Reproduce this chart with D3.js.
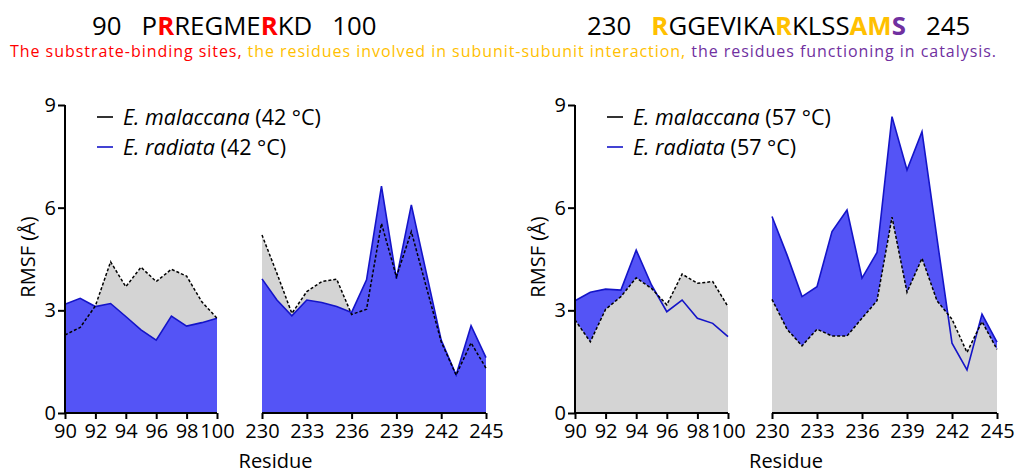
<!DOCTYPE html>
<meta charset="utf-8">
<style>
  body { margin: 0; background: #fff; }
  text { font-family: "Open Sans", sans-serif; }
</style>
<body>
<div id="chart"></div>
<script src="https://d3js.org/d3.v7.min.js"></script>
<script>
  // residues of the two segments
  var resA = [90, 91, 92, 93, 94, 95, 96, 97, 98, 99, 100];
  var resB = [230, 231, 232, 233, 234, 235, 236, 237, 238, 239, 240, 241, 242, 243, 244, 245];
  var ticksA = [90, 92, 94, 96, 98, 100];
  var ticksB = [230, 233, 236, 239, 242, 245];
  var yTicks = [0, 3, 6, 9];

  // RMSF values (Å)
  var mal42A = [2.28, 2.5, 3.13, 4.42, 3.69, 4.26, 3.84, 4.2, 4.0, 3.25, 2.77];
  var rad42A = [3.18, 3.35, 3.11, 3.2, 2.82, 2.43, 2.13, 2.83, 2.54, 2.64, 2.77];
  var mal42B = [5.2, 4.08, 2.91, 3.55, 3.84, 3.91, 2.88, 3.03, 5.54, 3.98, 5.3, 3.69, 2.08, 1.11, 2.05, 1.31];
  var rad42B = [3.92, 3.3, 2.84, 3.3, 3.23, 3.11, 2.94, 3.89, 6.63, 3.92, 6.08, 4.1, 2.13, 1.11, 2.55, 1.62];

  var mal57A = [2.72, 2.08, 3.03, 3.4, 3.95, 3.64, 3.16, 4.06, 3.79, 3.84, 3.11];
  var rad57A = [3.28, 3.53, 3.62, 3.59, 4.76, 3.74, 2.96, 3.3, 2.77, 2.62, 2.23];
  var mal57B = [3.32, 2.45, 1.96, 2.45, 2.25, 2.25, 2.77, 3.28, 5.72, 3.53, 4.52, 3.28, 2.74, 1.77, 2.67, 1.86];
  var rad57B = [5.74, 4.62, 3.4, 3.69, 5.3, 5.93, 3.94, 4.69, 8.66, 7.1, 8.22, 5.1, 2.04, 1.26, 2.89, 2.07];

  var red = "#ff0000", orange = "#ffc000", purple = "#7030a0";
  var blueFill = "#5454f6", blueLine = "#1414c8", grayFill = "#d4d4d4";

  var svg = d3.select("#chart").append("svg")
    .attr("width", 1016).attr("height", 474);

  // ---- header texts ----
  function seqText(x, parts) {
    var t = svg.append("text").attr("x", x).attr("y", 35).attr("font-size", 25.8);
    parts.forEach(function (p) {
      t.append("tspan").text(p[0]).attr("fill", p[1] || "#000")
        .attr("font-weight", p[1] ? "bold" : null);
    });
  }
  seqText(92, [["90\u00a0\u00a0\u00a0P"], ["R", red], ["REGME"], ["R", red], ["KD\u00a0\u00a0\u00a0100"]]);
  seqText(587, [["230\u00a0\u00a0\u00a0"], ["R", orange], ["GGEVIKA"], ["R", orange], ["KLSS"], ["AM", orange], ["S", purple], ["\u00a0\u00a0\u00a0245"]]);

  var note = svg.append("text").attr("x", 10).attr("y", 57).attr("font-size", 16)
    .attr("textLength", 986).attr("lengthAdjust", "spacing");
  note.append("tspan").attr("fill", red).text("The substrate-binding sites, ");
  note.append("tspan").attr("fill", orange).text("the residues involved in subunit-subunit interaction, ");
  note.append("tspan").attr("fill", purple).text("the residues functioning in catalysis.");

  // ---- panels ----
  var y = d3.scaleLinear().domain([0, 9]).range([413, 105]);

  var panels = [
    { x0: 65, segA: [65, 217], segB: [262, 486], temp: "42", grayOnTop: false,
      malA: mal42A, radA: rad42A, malB: mal42B, radB: rad42B },
    { x0: 575, segA: [575, 728], segB: [772, 997], temp: "57", grayOnTop: true,
      malA: mal57A, radA: rad57A, malB: mal57B, radB: rad57B }
  ];

  panels.forEach(function (p) {
    var g = svg.append("g");
    var segs = [
      { res: resA, ticks: ticksA, range: p.segA, mal: p.malA, rad: p.radA },
      { res: resB, ticks: ticksB, range: p.segB, mal: p.malB, rad: p.radB }
    ];

    segs.forEach(function (s) {
      var x = d3.scaleLinear().domain(d3.extent(s.res)).range(s.range);
      var area = function (vals) {
        return d3.area().x(function (d, i) { return x(s.res[i]); })
          .y0(y(0)).y1(function (d) { return y(d); })(vals);
      };
      var line = function (vals) {
        return d3.line().x(function (d, i) { return x(s.res[i]); })
          .y(function (d) { return y(d); })(vals);
      };

      var grayArea = function () { g.append("path").attr("d", area(s.mal)).attr("fill", grayFill); };
      var blueArea = function () { g.append("path").attr("d", area(s.rad)).attr("fill", blueFill); };
      if (p.grayOnTop) { blueArea(); grayArea(); } else { grayArea(); blueArea(); }

      g.append("path").attr("d", line(s.rad)).attr("fill", "none")
        .attr("stroke", blueLine).attr("stroke-width", 1.6);
      g.append("path").attr("d", line(s.mal)).attr("fill", "none")
        .attr("stroke", "#000").attr("stroke-width", 1.5).attr("stroke-dasharray", "3,2");

      var ax = g.append("g").attr("transform", "translate(0," + y(0) + ")")
        .call(d3.axisBottom(x).tickValues(s.ticks).tickSize(6).tickPadding(5).tickFormat(d3.format("d")));
      ax.select(".domain").attr("d", "M" + s.range[0] + ",0H" + s.range[1]).attr("stroke-width", 2);
      ax.selectAll(".tick line").attr("stroke-width", 2);
      ax.selectAll(".tick text").attr("font-size", 20).attr("font-family", "Open Sans");
    });

    var ay = g.append("g").attr("transform", "translate(" + p.x0 + ",0)")
      .call(d3.axisLeft(y).tickValues(yTicks).tickSize(7).tickPadding(2));
    ay.select(".domain").attr("d", "M0," + y(9) + "V" + y(0)).attr("stroke-width", 2);
    ay.selectAll(".tick line").attr("stroke-width", 2);
    ay.selectAll(".tick text").attr("font-size", 20).attr("font-family", "Open Sans");

    // axis titles
    g.append("text").attr("transform", "translate(" + (p.x0 - 30) + ",257) rotate(-90)")
      .attr("text-anchor", "middle").attr("font-size", 20).text("RMSF (\u00c5)");
    g.append("text").attr("x", (p.segA[0] + p.segB[1]) / 2).attr("y", 468)
      .attr("text-anchor", "middle").attr("font-size", 20).text("Residue");

    // legend
    var leg = [
      { sp: "E. malaccana", color: "#000", y: 117 },
      { sp: "E. radiata", color: blueLine, y: 147 }
    ];
    leg.forEach(function (l) {
      g.append("line").attr("x1", p.x0 + 32).attr("x2", p.x0 + 48)
        .attr("y1", l.y).attr("y2", l.y).attr("stroke", l.color).attr("stroke-width", 1.6);
      var t = g.append("text").attr("x", p.x0 + 58).attr("y", l.y + 8).attr("font-size", 21.5);
      t.append("tspan").attr("font-style", "italic").text(l.sp);
      t.append("tspan").text(" (" + p.temp + " \u00b0C)");
    });
  });
</script>
</body>
